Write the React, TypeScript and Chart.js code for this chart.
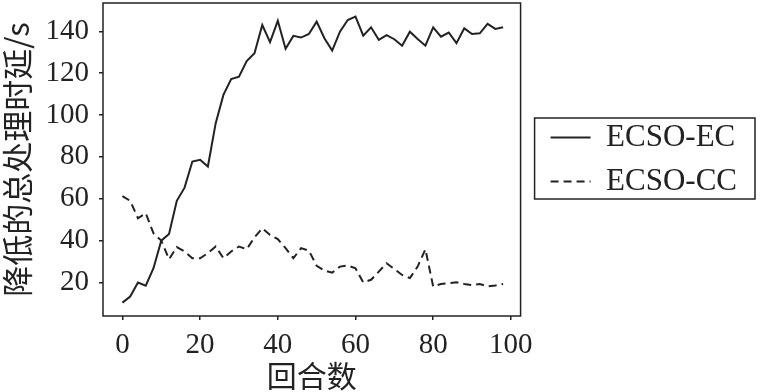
import React, { useEffect, useRef } from "react";
import { Chart, registerables } from "chart.js";

Chart.register(...registerables);

const rounds = [0, 2, 4, 6, 8, 10, 12, 14, 16, 18, 20, 22, 24, 26, 28, 30, 32, 34, 36, 38, 40, 42, 44, 46, 48, 50, 52, 54, 56, 58, 60, 62, 64, 66, 68, 70, 72, 74, 76, 78, 80, 82, 84, 86, 88, 90, 92, 94, 96, 98];
const ecsoEC = [10.4, 13.3, 20, 18.5, 26.8, 40, 43.2, 59, 65.3, 77.8, 78.6, 75.4, 96, 109.6, 117.2, 118.3, 125.8, 129.5, 143, 134.8, 145, 131.6, 137.8, 137, 138.7, 144.6, 136.7, 130.8, 139.8, 145.4, 147, 137.9, 141.9, 135.9, 138.2, 136.2, 133.1, 139.8, 136.3, 133.1, 141.9, 137.4, 139.4, 134.3, 141.4, 138.7, 139, 143.5, 141.1, 141.9];
const ecsoCC = [61.3, 59, 50.7, 53.1, 43.5, 40, 31.1, 36.9, 34.8, 31.6, 31.6, 34, 37.2, 31.6, 34.8, 37.2, 35.9, 41.6, 45.9, 42.7, 40.7, 36.4, 31.6, 36.4, 35.2, 28, 25.7, 24.7, 27.6, 28.1, 26.8, 20, 21.3, 25.2, 29.2, 26.4, 23.6, 22.1, 27.6, 35.9, 18.1, 19.3, 19.6, 20.1, 19.3, 18.8, 19.3, 18.1, 18.6, 19.3];
const seriesNames = ["ECSO-EC", "ECSO-CC"];
const seriesDash = [[], [8, 5]];
const xTicks = [0, 20, 40, 60, 80, 100];
const yTicks = [20, 40, 60, 80, 100, 120, 140];
const xTitle = "回合数";
const yTitle = "降低的总处理时延/s";

const INK = "#222222";
const SERIF = "'Liberation Serif', 'Times New Roman', serif";
const CJK = "'Noto Sans CJK SC', sans-serif";

const framePlugin = {
  id: "frameAndLegendBox",
  afterDraw(chart: any) {
    const { ctx, chartArea } = chart;
    ctx.save();
    ctx.strokeStyle = INK;
    ctx.lineWidth = 1.5;
    ctx.setLineDash([]);
    ctx.strokeRect(chartArea.left, chartArea.top, chartArea.right - chartArea.left, chartArea.bottom - chartArea.top);
    const lg = chart.legend;
    if (lg && lg.legendHitBoxes && lg.legendHitBoxes.length) {
      const hb = lg.legendHitBoxes;
      let l = Infinity, r = -Infinity, t = Infinity, b = -Infinity;
      hb.forEach((h: any) => {
        l = Math.min(l, h.left);
        r = Math.max(r, h.left + h.width);
        t = Math.min(t, h.top);
        b = Math.max(b, h.top + h.height);
      });
      ctx.strokeRect(l - 16, t - 4, r - l + 34, b - t + 6);
    }
    ctx.restore();
  },
};

export default function App() {
  const ref = useRef<HTMLCanvasElement | null>(null);
  useEffect(() => {
    if (!ref.current) return;
    const chart = new Chart(ref.current, {
      type: "line",
      data: {
        datasets: [
          {
            label: seriesNames[0],
            data: rounds.map((x, i) => ({ x, y: ecsoEC[i] })),
            borderColor: INK,
            backgroundColor: INK,
            borderWidth: 2,
            borderDash: seriesDash[0],
            pointRadius: 0,
            tension: 0,
            fill: false,
          },
          {
            label: seriesNames[1],
            data: rounds.map((x, i) => ({ x, y: ecsoCC[i] })),
            borderColor: INK,
            backgroundColor: INK,
            borderWidth: 2,
            borderDash: seriesDash[1],
            pointRadius: 0,
            tension: 0,
            fill: false,
          },
        ],
      },
      options: {
        responsive: false,
        animation: false,
        layout: { padding: { top: 3, left: 0, right: 16, bottom: 0 } },
        plugins: {
          tooltip: { enabled: false },
          legend: {
            position: "right",
            fullSize: false,
            maxWidth: 400,
            labels: {
              usePointStyle: true,
              pointStyle: "line",
              pointStyleWidth: 40,
              padding: 13,
              color: INK,
              font: { family: SERIF, size: 31 },
              generateLabels: (ch: any) => {
                const items = Chart.defaults.plugins.legend.labels.generateLabels(ch);
                return items.map((it: any, i: number) => ({
                  ...it,
                  lineDash: seriesDash[i],
                  lineWidth: 2,
                  strokeStyle: INK,
                  pointStyle: "line",
                }));
              },
            },
          },
        },
        scales: {
          x: {
            type: "linear",
            min: -5,
            max: 102.5,
            afterBuildTicks: (s: any) => {
              s.ticks = xTicks.map((v) => ({ value: v }));
            },
            afterFit: (s: any) => {
              s.height = 76;
              s.paddingLeft = 0;
              s.paddingRight = 0;
            },
            border: { display: false },
            grid: { drawOnChartArea: false, drawTicks: true, tickLength: 4, color: INK, lineWidth: 1.5 },
            ticks: { color: INK, padding: 8, maxRotation: 0, font: { family: SERIF, size: 29 } },
            title: {
              display: true,
              text: xTitle,
              color: INK,
              padding: { top: 0, bottom: 1 },
              font: { family: CJK, size: 30, lineHeight: 1 },
            },
          },
          y: {
            type: "linear",
            min: 4,
            max: 153.5,
            afterBuildTicks: (s: any) => {
              s.ticks = yTicks.map((v) => ({ value: v }));
            },
            afterFit: (s: any) => {
              s.width = 103;
              s.paddingTop = 0;
              s.paddingBottom = 0;
            },
            border: { display: false },
            grid: { drawOnChartArea: false, drawTicks: true, tickLength: 4, color: INK, lineWidth: 1.5 },
            ticks: { color: INK, padding: 10, font: { family: SERIF, size: 29 } },
            title: {
              display: true,
              text: yTitle,
              color: INK,
              padding: { top: 0, bottom: 0 },
              font: { family: CJK, size: 31, lineHeight: 1.12 },
            },
          },
          yR: {
            type: "linear",
            position: "right",
            display: true,
            afterFit: (s: any) => {
              s.width = 17;
              s.paddingTop = 0;
              s.paddingBottom = 0;
            },
            border: { display: false },
            grid: { display: false },
            ticks: { display: false },
          },
        },
      },
      plugins: [framePlugin],
    } as any);
    return () => chart.destroy();
  }, []);
  return (
    <div style={{ position: "fixed", left: 0, top: 0, width: 763, height: 392, background: "#fff" }}>
      <canvas ref={ref} width={763} height={392} style={{ display: "block" }} />
    </div>
  );
}
